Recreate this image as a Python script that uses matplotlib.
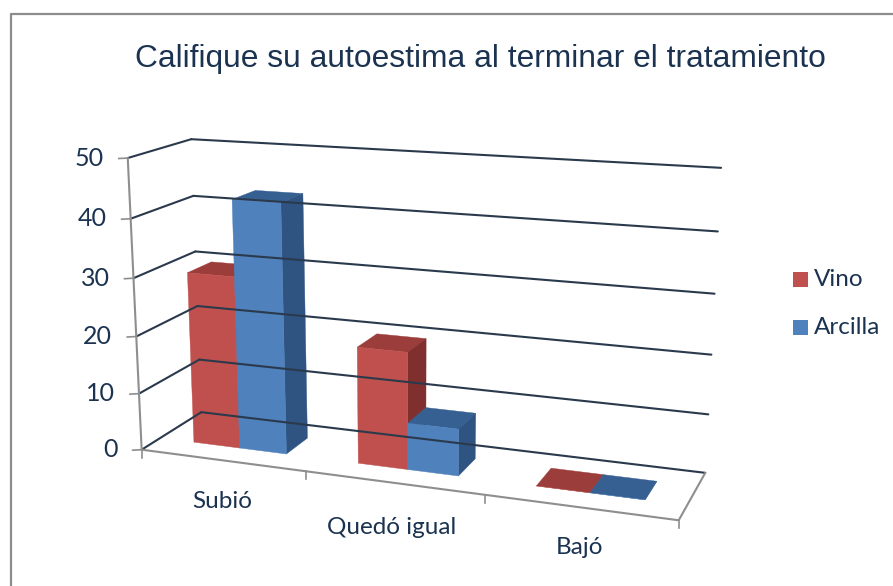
import numpy as np
import matplotlib
matplotlib.use("Agg")
import matplotlib.pyplot as plt
from matplotlib.patches import Polygon

categorias = ["Subió", "Quedó igual", "Bajó"]
series = ["Vino", "Arcilla"]
vino = [30, 20, 0]
arcilla = [43, 8, 0]
ticks_valor = [0, 10, 20, 30, 40, 50]

TEXTO = "#1b3350"
REJILLA = "#2a3a4c"
GRIS = "#8e8e8e"
ROJO = ("#c0504d", "#9b3d3a", "#7f302e")  # frente, arriba, lado
AZUL = ("#4f81bd", "#376092", "#2f5482")

W, H = 893, 586
fig = plt.figure(figsize=(W / 100, H / 100), dpi=100)
ax = fig.add_axes([0, 0, 1, 1])
ax.set_xlim(0, W)
ax.set_ylim(H, 0)
ax.axis("off")

# caja del grafico: (x categoria, profundidad, valor) -> pixel
esquinas = [
    ((0, 0, 0), (143, 450)), ((3, 0, 0), (678, 521)), ((3, 1, 0), (706, 472)),
    ((0, 1, 0), (200, 412)), ((0, 0, 50), (127, 157)), ((0, 1, 50), (192, 140)),
    ((3, 1, 50), (721, 168)),
]
filas = []
for (x, y, z), (u, v) in esquinas:
    filas.append([x, y, z, 1, 0, 0, 0, 0, -u * x, -u * y, -u * z, -u])
    filas.append([0, 0, 0, 0, x, y, z, 1, -v * x, -v * y, -v * z, -v])
P = np.linalg.svd(np.array(filas, float))[2][-1].reshape(3, 4)


def pr(x, y, z):
    p = P @ np.array([x, y, z, 1.0])
    return p[0] / p[2], p[1] / p[2]


def linea(a, b, color, lw):
    ax.plot(*zip(pr(*a), pr(*b)), color=color, lw=lw, solid_capstyle="round")


# marco
ax.plot([11, 11, 893], [586, 14, 14], color="#8c8c8c", lw=1.6)

# rejilla: pared lateral y pared del fondo
for t in ticks_valor:
    linea((0, 0, t), (0, 1, t), REJILLA, 1.5)
    linea((0, 1, t), (3, 1, t), REJILLA, 1.5)

# suelo y ejes
linea((0, 0, 0), (3, 0, 0), GRIS, 1.5)
linea((3, 0, 0), (3, 1, 0), GRIS, 1.5)
linea((0, 0, 0), (0, 0, 50), GRIS, 1.5)
for t in ticks_valor:
    x0, y0 = pr(0, 0, t)
    ax.plot([x0 - 9, x0], [y0 + 0.5, y0], color=GRIS, lw=1.2)
    ax.text(x0 - 24, y0, str(t), ha="right", va="center", fontsize=18,
            family="Lato", color=TEXTO)
for i in range(4):
    x0, y0 = pr(i, 0, 0)
    ax.plot([x0, x0], [y0, y0 + 8], color=GRIS, lw=1.2)

# barras
ANCHO = 0.286
P0, P1 = 0.3, 0.7


def barra(x0, x1, z, col):
    frente, arriba, lado = col
    caras = [
        ([(x0, P0, z), (x0, P1, z), (x1, P1, z), (x1, P0, z)], arriba),
        ([(x1, P0, 0), (x1, P1, 0), (x1, P1, z), (x1, P0, z)], lado),
        ([(x0, P0, 0), (x1, P0, 0), (x1, P0, z), (x0, P0, z)], frente),
    ]
    for cara, c in caras:
        ax.add_patch(Polygon([pr(*q) for q in cara], closed=True, fc=c, ec=c, lw=0.3))


for i in range(len(categorias)):
    for j, (vals, col) in enumerate([(vino, ROJO), (arcilla, AZUL)]):
        x0 = i + 0.214 + j * ANCHO
        barra(x0, x0 + ANCHO, vals[i], col)

etiquetas_x = [222, 392, 580]
etiquetas_y = [501, 527, 548]
for c, xx, yy in zip(categorias, etiquetas_x, etiquetas_y):
    ax.text(xx, yy, c, ha="center", va="center", fontsize=17.5,
            family="Lato", color=TEXTO)

ax.text(480, 59, "Califique su autoestima al terminar el tratamiento", ha="center",
        va="center", fontsize=22.9, family="Liberation Sans", color=TEXTO)

# leyenda
for s, c, yy in zip(series, (ROJO[0], AZUL[0]), (279.5, 327.5)):
    ax.add_patch(plt.Rectangle((793, yy - 7.5), 15, 15, fc=c, ec="none"))
    ax.text(814, yy, s, ha="left", va="center", fontsize=17.5, family="Lato", color=TEXTO)

fig.savefig("out.png", dpi=100)
